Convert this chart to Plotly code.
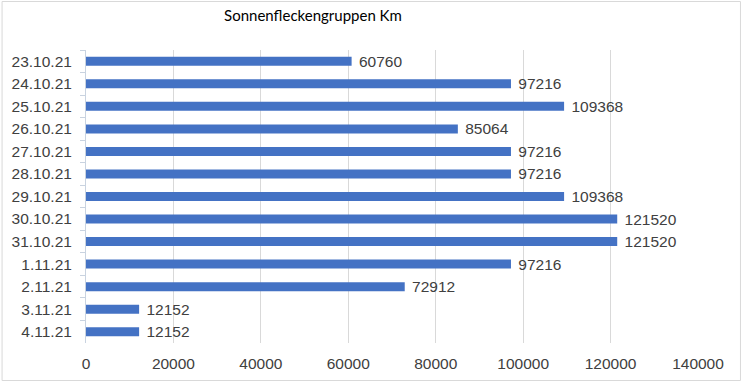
import plotly.graph_objects as go

categories = ["23.10.21", "24.10.21", "25.10.21", "26.10.21", "27.10.21", "28.10.21",
              "29.10.21", "30.10.21", "31.10.21", "1.11.21", "2.11.21", "3.11.21", "4.11.21"]
values = [60760, 97216, 109368, 85064, 97216, 97216, 109368, 121520, 121520, 97216, 72912, 12152, 12152]
x_ticks = [0, 20000, 40000, 60000, 80000, 100000, 120000, 140000]
title_text = "Sonnenfleckengruppen Km"

W, H = 742, 384
ml, mr, mt, mb = 85.5, 44, 50, 41
pw, ph = W - ml - mr, H - mt - mb

fig = go.Figure(go.Bar(
    y=categories, x=values, orientation="h",
    marker=dict(color="#4472C4", line=dict(width=0)),
    text=[" " + str(v) for v in values], textposition="outside",
    constraintext="none",
    textfont=dict(family="Liberation Sans, Arial", size=15.5, color="#404040"),
    cliponaxis=False,
))

def px_x(p):
    return (p - ml) / pw

def px_y(p):
    return 1 - (p - mt) / ph

fig.update_layout(
    width=W, height=H,
    margin=dict(l=ml, r=mr, t=mt, b=mb, autoexpand=False),
    paper_bgcolor="white", plot_bgcolor="white",
    bargap=0.6,
    showlegend=False,
    title=dict(text=title_text, x=313 / W, xanchor="center",
               y=1 - 16 / H, yanchor="middle",
               font=dict(family="Lato, Carlito, Calibri", size=15, color="#000000")),
    xaxis=dict(range=[0, 140000], tickvals=x_ticks, ticktext=[str(t) for t in x_ticks],
               showgrid=True, gridcolor="#d9d9d9", gridwidth=1, zeroline=False,
               ticks="outside", ticklen=6, tickcolor="rgba(0,0,0,0)",
               tickfont=dict(family="Liberation Sans, Arial", size=15.5, color="#404040"),
               automargin=False, fixedrange=True),
    yaxis=dict(categoryorder="array", categoryarray=categories, autorange="reversed",
               showline=True, linecolor="#c9d3e0", linewidth=1,
               ticks="outside", tickson="boundaries", ticklen=5, tickcolor="#c9d3e0",
               tickfont=dict(family="Liberation Sans, Arial", size=15.5, color="#404040"),
               ticklabelstandoff=10, showgrid=False, automargin=False, fixedrange=True),
    shapes=[dict(type="rect", xref="paper", yref="paper",
                 x0=px_x(1.5), x1=px_x(740.5), y0=px_y(380.5), y1=px_y(1.5),
                 line=dict(color="#d9d9d9", width=1), layer="below")],
)

fig.write_html("out.html", config={"displayModeBar": False},
               post_script="document.body.style.margin='0';")
